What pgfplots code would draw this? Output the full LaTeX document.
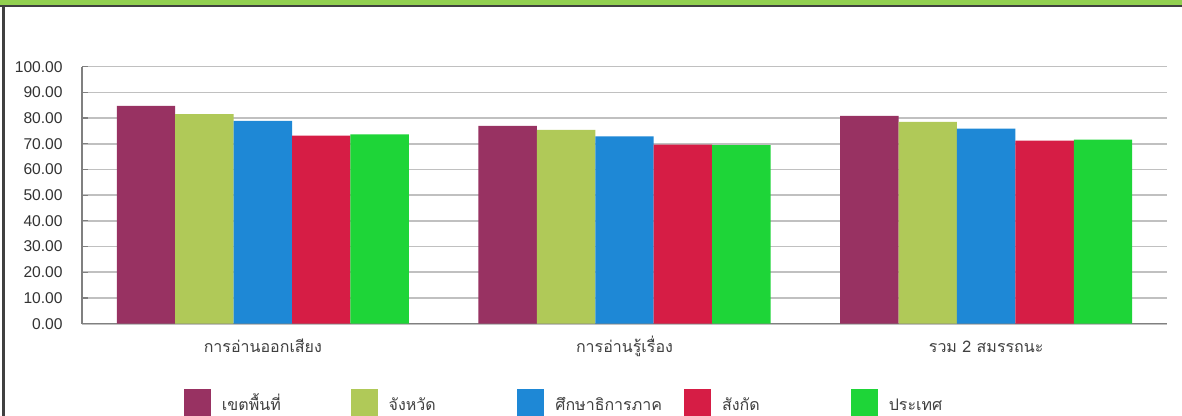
\documentclass[border=0pt]{standalone}
\usepackage{fontspec}
\setmainfont{Liberation Sans}
\newfontfamily\thaifont[Script=Thai]{Loma}
\usepackage{pgfplots}
\pgfplotsset{compat=1.18}
\definecolor{cA}{RGB}{152,50,98}
\definecolor{cB}{RGB}{176,201,88}
\definecolor{cC}{RGB}{30,136,214}
\definecolor{cD}{RGB}{214,29,69}
\definecolor{cE}{RGB}{30,213,56}
\definecolor{topgreen}{RGB}{146,208,80}
\definecolor{gridc}{RGB}{192,192,192}
\definecolor{axisc}{RGB}{128,128,128}
\newcommand\ls[1]{\makebox[60bp][l]{\rule[-1bp]{0pt}{11bp}#1}}
\begin{document}
\begin{tikzpicture}
\useasboundingbox (0,0) rectangle (591bp,208bp);
\fill[white] (0,0) rectangle (591bp,208bp);
\fill[topgreen] (0,208bp) rectangle (591bp,205.5bp);
\draw[black!75,line width=1bp] (0,205bp) -- (591bp,205bp);
\draw[black!75,line width=1.2bp] (1.75bp,205bp) -- (1.75bp,0);
\begin{axis}[
  at={(41bp,46.15bp)}, anchor=south west,
  scale only axis, width=542.5bp, height=128.5bp,
  xmin=-0.5, xmax=2.5, ymin=0, ymax=100,
  ybar=0pt, bar width=0.1615,
  axis x line*=bottom, axis y line*=left,
  axis line style={axisc, line width=0.6bp},
  xtick={0,1,2},
  xticklabels={{การอ่านออกเสียง},{การอ่านรู้เรื่อง},{รวม 2 สมรรถนะ}},
  xticklabel style={font=\thaifont\fontsize{8bp}{10bp}\selectfont, text=black!75, anchor=base, inner sep=0pt, yshift=-14.5bp},
  ytick={0,10,...,100},
  yticklabel style={font=\fontsize{7.8bp}{9bp}\selectfont, text=black!80, inner sep=0pt, xshift=-9.5bp},
  /pgf/number format/.cd, fixed, fixed zerofill, precision=2, assume math mode=true,
  /pgfplots/.cd,
  tick align=inside, major tick length=3bp,
  tick style={axisc, line width=0.6bp},
  ymajorgrids, grid style={gridc, line width=0.8bp},
  legend columns=5,
  legend image code/.code={\fill[#1] (0bp,-6.75bp) rectangle (13.5bp,6.75bp);},
  legend style={at={(0.094,-0.3047)}, anchor=west, draw=none, fill=none, inner sep=0pt, outer sep=0pt,
    nodes={inner sep=0pt, font=\thaifont\fontsize{8bp}{10bp}\selectfont, text=black!75},
    /tikz/every odd column/.append style={column sep=5.5bp},
    /tikz/every even column/.append style={column sep=4.35bp}},
]
\addplot[fill=cA, draw=none] coordinates {(0,84.8) (1,77.0) (2,80.9)};
\addlegendentry{\ls{เขตพื้นที่}}
\addplot[fill=cB, draw=none] coordinates {(0,81.5) (1,75.4) (2,78.5)};
\addlegendentry{\ls{จังหวัด}}
\addplot[fill=cC, draw=none] coordinates {(0,78.9) (1,72.9) (2,75.9)};
\addlegendentry{\ls{ศึกษาธิการภาค}}
\addplot[fill=cD, draw=none] coordinates {(0,73.2) (1,69.7) (2,71.2)};
\addlegendentry{\ls{สังกัด}}
\addplot[fill=cE, draw=none] coordinates {(0,73.7) (1,69.5) (2,71.6)};
\addlegendentry{\ls{ประเทศ}}
\end{axis}
\end{tikzpicture}
\end{document}
